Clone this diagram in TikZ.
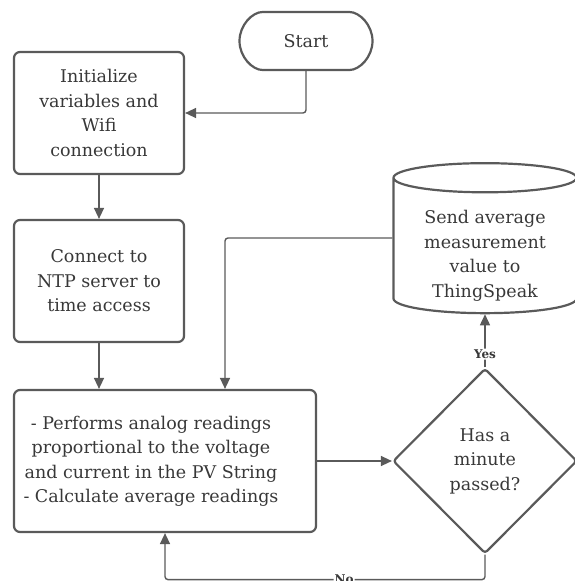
\documentclass[tikz,border=0pt]{standalone}
\usepackage{fontspec}
\setmainfont{DejaVu Serif}
\usetikzlibrary{arrows.meta,shapes.geometric,shapes.misc}
\definecolor{linegray}{HTML}{5A5A5A}
\definecolor{textgray}{HTML}{383838}

\begin{document}
\begin{tikzpicture}[x=1pt,y=-1pt,
	box/.style={draw=linegray,line width=2.2pt,rounded corners=6pt,align=center,
		text=textgray,inner sep=0pt,font=\fontsize{17.5}{24.5}\selectfont},
	flow/.style={draw=linegray,line width=1.4pt,rounded corners=3pt,
		-{Triangle[length=11pt,width=10pt]}},
	tag/.style={fill=white,inner sep=1pt,text=textgray,
		font=\bfseries\fontsize{12}{14}\selectfont}]
	\useasboundingbox (0,0) rectangle (575,581);
	% steps of the flow
	\node[box,rounded rectangle,minimum width=133pt,minimum height=58pt] (start) at (306,41) {Start};
	\node[box,minimum width=170pt,minimum height=122pt] (init) at (99,113)
		{Initialize\\variables and\\Wifi\\connection};
	\node[box,minimum width=170pt,minimum height=122pt] (ntp) at (99,281)
		{Connect to\\NTP server to\\time access};
	\node[box,minimum width=302pt,minimum height=142pt] (read) at (165,461)
		{\begin{tabular}{@{}c@{}}- Performs analog readings\\proportional to the voltage\\and current in the PV String\\- Calculate average readings\end{tabular}\hspace*{28pt}};
	\node[box,diamond,rounded corners=3pt,minimum width=184pt,minimum height=185pt] (minute) at (485,461)
		{Has a\\minute\\passed?};
	% drum, its text sits low
	\node[box,cylinder,shape border rotate=90,aspect=0.65,rounded corners=0pt,
		minimum width=183pt,minimum height=150pt] (send) at (485,246) {\phantom{Send}};
	\node[box,draw=none] (sendtext) at (485,256)
		{Send average\\measurement\\value to\\ThingSpeak};
	% connectors
	\draw[flow] ([yshift=8pt]send.west) -| ([xshift=60pt]read.north);
	\draw[flow] (start.south) |- (init.east);
	\draw[flow] (init) -- (ntp);
	\draw[flow] (ntp.south) -- (ntp.south |- read.north);
	\draw[flow] (read.east) -- (minute.west);
	\draw[flow] (minute.north) -- node[tag,pos=0.25]{Yes} (send.south);
	\draw[flow] (minute.south) -- ++(0,25) -| node[tag,pos=0.22]{No} (read.south);
\end{tikzpicture}
\end{document}
